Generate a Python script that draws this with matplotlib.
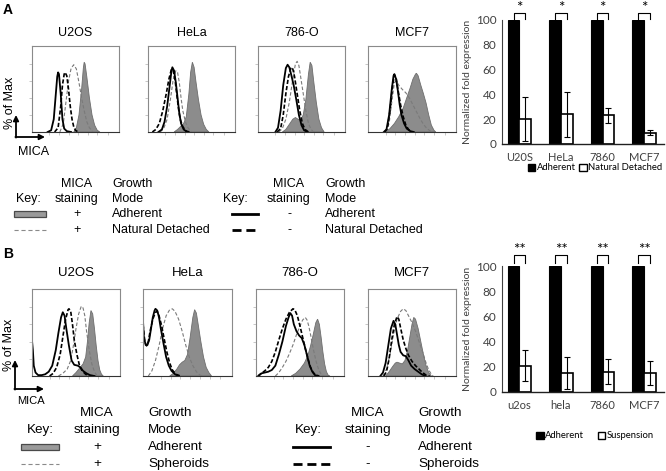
import numpy as np
import matplotlib
matplotlib.use("Agg")
import matplotlib.pyplot as plt
from matplotlib.patches import Patch, Rectangle

plt.rcParams["font.family"] = ["Liberation Sans", "DejaVu Sans"]
plt.rcParams["lines.scale_dashes"] = False

W, H = 666, 471

# flow histograms: (MICA channel, % of max)
# pos_adh = MICA+ adherent (grey fill), pos_var = MICA+ detached/spheroids (grey dashes)
# neg_adh = isotype adherent (solid), neg_var = isotype detached/spheroids (black dashes)
A_U2OS_POS_ADH = [(48,0),(51,5),(54,20),(57,50),(59,75),(60,82),(61,80),(63,65),(66,40),(69,20),(72,8),(75,2),(78,0)]
A_U2OS_POS_VAR = [(32,0),(36,10),(39,35),(42,60),(45,75),(48,79),(51,74),(54,58),(57,40),(60,25),(63,12),(66,5),(70,0)]
A_U2OS_NEG_ADH = [(18,0),(22,2),(25,15),(27,40),(29,65),(30,70),(31,68),(33,45),(35,15),(37,4),(40,1),(45,0)]
A_U2OS_NEG_VAR = [(26,0),(30,5),(33,30),(35,55),(37,68),(38,70),(40,66),(42,50),(44,30),(46,15),(48,6),(50,2),(53,0)]

A_HELA_POS_ADH = [(30,0),(34,3),(38,7),(41,10),(44,18),(47,45),(49,70),(51,82),(53,76),(55,60),(58,38),(61,20),(64,9),(67,3),(70,0)]
A_HELA_POS_VAR = [(14,0),(18,4),(22,15),(26,40),(29,62),(32,72),(34,70),(36,58),(38,40),(40,25),(43,12),(46,5),(50,0)]
A_HELA_NEG_ADH = [(12,0),(16,3),(19,12),(22,30),(25,55),(27,72),(28,76),(30,72),(32,58),(34,40),(36,22),(38,10),(41,3),(45,0)]
A_HELA_NEG_VAR = [(5,0),(9,3),(13,10),(17,25),(21,45),(24,62),(27,74),(29,72),(31,62),(33,45),(35,28),(37,15),(40,6),(44,1),(48,0)]

A_786_POS_ADH = [(28,0),(32,3),(36,9),(40,15),(43,17),(46,15),(49,14),(52,20),(55,38),(58,68),(60,82),(62,78),(64,60),(67,35),(70,15),(73,5),(76,0)]
A_786_POS_VAR = [(24,0),(28,4),(32,15),(36,35),(40,62),(43,80),(45,83),(47,78),(49,65),(52,45),(55,25),(58,10),(61,3),(64,0)]
A_786_NEG_ADH = [(20,0),(23,5),(26,25),(29,55),(32,75),(34,79),(36,76),(38,68),(41,55),(44,38),(47,20),(50,8),(53,2),(57,0)]
A_786_NEG_VAR = [(22,0),(26,4),(29,20),(32,45),(35,65),(38,76),(40,74),(42,65),(45,45),(48,25),(51,10),(54,3),(58,0)]

A_MCF7_POS_ADH = [(20,0),(25,4),(30,10),(35,18),(40,28),(44,40),(48,52),(51,62),(54,68),(55,69),(57,66),(60,55),(63,45),(66,34),(69,20),(72,8),(75,2),(77,0)]
A_MCF7_POS_VAR = [(20,0),(24,10),(27,35),(30,58),(32,60),(35,55),(39,50),(43,46),(47,40),(51,32),(55,24),(59,16),(63,9),(67,4),(71,1),(75,0)]
A_MCF7_NEG_ADH = [(18,0),(21,3),(24,20),(27,50),(29,66),(30,68),(32,62),(34,48),(36,32),(38,20),(41,10),(44,4),(48,1),(52,0)]
A_MCF7_NEG_VAR = [(19,0),(22,4),(25,25),(28,55),(30,67),(32,63),(34,50),(37,32),(40,18),(43,8),(46,3),(50,0)]

B_U2OS_POS_ADH = [(46,0),(50,4),(54,9),(58,14),(61,22),(63,40),(65,62),(67,76),(69,72),(71,55),(73,35),(75,18),(77,7),(79,2),(81,0)]
B_U2OS_POS_VAR = [(30,0),(35,3),(40,8),(44,18),(47,35),(50,55),(53,72),(56,81),(58,79),(60,70),(62,52),(65,30),(68,14),(71,5),(74,0)]
B_U2OS_NEG_ADH = [(0,41),(1,30),(2,12),(4,4),(7,1),(11,1),(15,2),(19,5),(23,12),(27,30),(30,50),(33,68),(35,74),(37,70),(39,55),(42,35),(45,18),(48,13),(52,12),(55,10),(58,6),(62,3),(66,1),(71,0)]
B_U2OS_NEG_VAR = [(20,0),(24,3),(28,10),(32,25),(35,45),(38,65),(41,77),(42,78),(44,75),(46,60),(48,42),(51,25),(54,12),(57,6),(61,2),(65,0)]

B_HELA_POS_ADH = [(30,0),(34,3),(38,8),(41,13),(44,16),(47,18),(50,25),(53,45),(56,68),(58,77),(60,73),(62,60),(65,40),(68,22),(71,10),(74,4),(77,0)]
B_HELA_POS_VAR = [(6,0),(10,6),(14,18),(18,35),(22,55),(26,70),(30,77),(33,78),(36,75),(40,66),(44,52),(48,36),(52,22),(56,12),(60,5),(64,1),(67,0)]
B_HELA_NEG_ADH = [(0,64),(1,45),(3,36),(5,36),(7,42),(9,55),(11,68),(13,76),(14,78),(16,76),(18,68),(20,55),(23,38),(26,22),(29,12),(32,6),(36,2),(40,0)]
B_HELA_NEG_VAR = [(0,60),(2,40),(4,35),(6,40),(8,52),(11,66),(14,74),(16,75),(18,70),(21,58),(24,42),(27,27),(30,15),(33,7),(37,2),(42,0)]

B_786_POS_ADH = [(40,0),(45,3),(50,8),(55,15),(59,24),(62,35),(65,48),(68,62),(70,66),(72,60),(74,45),(76,28),(78,14),(80,5),(82,1),(84,0)]
B_786_POS_VAR = [(22,0),(26,4),(30,10),(34,17),(38,26),(42,36),(46,48),(50,58),(53,65),(56,68),(58,65),(60,58),(62,48),(65,32),(68,18),(71,8),(74,2),(77,0)]
B_786_NEG_ADH = [(3,0),(6,3),(10,4),(14,5),(18,7),(22,12),(26,25),(30,40),(34,58),(37,68),(39,73),(41,70),(43,60),(46,52),(49,47),(52,44),(55,36),(58,24),(61,12),(64,5),(67,1),(70,0)]
B_786_NEG_VAR = [(2,0),(6,3),(10,6),(14,10),(18,17),(22,28),(26,42),(30,55),(34,66),(38,74),(42,78),(44,77),(47,70),(50,58),(53,45),(56,32),(59,20),(62,10),(65,4),(68,1),(72,0)]

B_MCF7_POS_ADH = [(20,0),(24,5),(28,11),(31,15),(33,16),(36,15),(39,14),(42,18),(45,30),(48,48),(50,60),(52,68),(54,66),(57,55),(60,40),(63,25),(66,12),(69,4),(72,0)]
B_MCF7_POS_VAR = [(17,0),(21,8),(25,25),(29,48),(33,66),(37,75),(40,78),(43,76),(46,70),(50,62),(54,52),(58,40),(62,28),(66,15),(69,7),(72,2),(74,0)]
B_MCF7_NEG_ADH = [(14,0),(17,4),(20,15),(23,35),(26,55),(29,64),(31,60),(33,48),(35,36),(37,28),(40,24),(43,23),(46,18),(49,12),(53,8),(57,5),(61,2),(65,0)]
B_MCF7_NEG_VAR = [(18,0),(21,5),(24,20),(27,42),(30,60),(33,69),(35,66),(37,56),(40,42),(43,32),(46,24),(50,17),(54,12),(58,8),(62,4),(66,1),(70,0)]

TITLES = ["U2OS", "HeLa", "786-O", "MCF7"]

# bar charts
CELLS_A = ["U20S", "HeLa", "7860", "MCF7"]
ADH_A = [100, 100, 100, 100]
DET_A = [20, 24, 23, 9]
DET_A_ERR = [17.5, 18, 6, 2]
STARS_A = ["*", "*", "*", "*"]

CELLS_B = ["u2os", "hela", "7860", "MCF7"]
ADH_B = [100, 100, 100, 100]
SUS_B = [21, 15, 16, 15]
SUS_B_ERR = [12.5, 12.5, 10, 9.5]
STARS_B = ["**", "**", "**", "**"]


def rect(x0, y0, x1, y1):
    return [x0 / W, 1 - y1 / H, (x1 - x0) / W, (y1 - y0) / H]


fig = plt.figure(figsize=(W / 100, H / 100), dpi=100)


def draw_hist(box, pos_adh, pos_var, neg_adh, neg_var):
    ax = fig.add_axes(rect(*box))
    x, y = zip(*pos_adh)
    ax.fill(x, y, facecolor="#8c8c8c", edgecolor="#6e6e6e", lw=0.6)
    x, y = zip(*pos_var)
    ax.plot(x, y, color="#7a7a7a", lw=0.8, dashes=(2.5, 1.5))
    x, y = zip(*neg_var)
    ax.plot(x, y, color="black", lw=1.2, dashes=(3, 1.5))
    x, y = zip(*neg_adh)
    ax.plot(x, y, color="black", lw=1.3)
    ax.set_xlim(0, 100)
    ax.set_ylim(0, 101)
    ax.set_yticks([20, 40, 60, 80])
    ax.set_xticks([20, 31, 42, 53, 64, 75, 87])
    ax.set_xticklabels([])
    ax.set_yticklabels([])
    ax.tick_params(length=2, width=0.5, colors="#b0b0b0")
    for s in ax.spines.values():
        s.set_color("#8a8a8a")
        s.set_linewidth(0.8)
    ax.spines["bottom"].set_color("#333333")
    return ax


boxes_a = [(32, 46, 119, 132), (148, 46, 235, 132), (258, 46, 345, 132), (368, 46, 456, 132)]
boxes_b = [(32, 289, 120, 376), (143, 289, 232, 376), (256, 289, 344, 376), (368, 289, 456, 376)]

hist_a = [(A_U2OS_POS_ADH, A_U2OS_POS_VAR, A_U2OS_NEG_ADH, A_U2OS_NEG_VAR),
          (A_HELA_POS_ADH, A_HELA_POS_VAR, A_HELA_NEG_ADH, A_HELA_NEG_VAR),
          (A_786_POS_ADH, A_786_POS_VAR, A_786_NEG_ADH, A_786_NEG_VAR),
          (A_MCF7_POS_ADH, A_MCF7_POS_VAR, A_MCF7_NEG_ADH, A_MCF7_NEG_VAR)]
hist_b = [(B_U2OS_POS_ADH, B_U2OS_POS_VAR, B_U2OS_NEG_ADH, B_U2OS_NEG_VAR),
          (B_HELA_POS_ADH, B_HELA_POS_VAR, B_HELA_NEG_ADH, B_HELA_NEG_VAR),
          (B_786_POS_ADH, B_786_POS_VAR, B_786_NEG_ADH, B_786_NEG_VAR),
          (B_MCF7_POS_ADH, B_MCF7_POS_VAR, B_MCF7_NEG_ADH, B_MCF7_NEG_VAR)]

for box, curves in zip(boxes_a, hist_a):
    draw_hist(box, *curves)
for box, curves in zip(boxes_b, hist_b):
    draw_hist(box, *curves)


def draw_bars(box, cells, adh, var, err, stars, labels, leg_xy, colsp, leg_top, br_top):
    ax = fig.add_axes(rect(*box))
    xs = np.arange(len(cells))
    ax.bar(xs - 0.14, adh, 0.28, color="black", edgecolor="black", lw=0.8)
    ax.bar(xs + 0.14, var, 0.28, color="white", edgecolor="black", lw=1.2,
           yerr=err, capsize=2.5, error_kw=dict(lw=0.8, capthick=0.8, ecolor="black"))
    ax.set_xlim(-0.42, 3.48)
    ax.set_ylim(0, 100)
    for i, s in enumerate(stars):
        ax.plot([i - 0.14, i - 0.14, i + 0.14, i + 0.14], [leg_top, br_top, br_top, leg_top],
                color="black", lw=0.8, clip_on=False)
        ax.text(i, br_top - 1.5, s, ha="center", va="bottom", fontsize=11,
                family="Lato", clip_on=False)
    for side in ("top", "right"):
        ax.spines[side].set_visible(False)
    ax.spines["left"].set_color("#404040")
    ax.spines["bottom"].set_color("#202020")
    ax.spines["bottom"].set_linewidth(1.0)
    ax.set_yticks(range(0, 101, 20))
    ax.set_xticks(xs)
    ax.set_xticklabels(cells)
    ax.tick_params(length=0, labelsize=8.5, labelcolor="#404040", pad=4)
    ax.tick_params(axis="x", labelsize=8, pad=6)
    for t in ax.get_xticklabels() + ax.get_yticklabels():
        t.set_family("Lato")
    ax.set_ylabel("Normalized fold expression", fontsize=7.5, family="Lato",
                  color="#404040", labelpad=3)
    handles = [Patch(facecolor="black", edgecolor="black"),
               Patch(facecolor="white", edgecolor="black")]
    fig.legend(handles, labels, loc="center", bbox_to_anchor=(leg_xy[0] / W, 1 - leg_xy[1] / H),
               ncol=2, frameon=False, prop={"family": "Lato", "size": 6.8},
               handlelength=0.8, handleheight=0.8, handletextpad=0.15, columnspacing=colsp,
               borderpad=0, borderaxespad=0)


draw_bars((502, 20, 664, 144), CELLS_A, ADH_A, DET_A, DET_A_ERR, STARS_A,
          ["Adherent", "Natural Detached"], (595, 168), 0.4, 100.5, 105.6)
draw_bars((502, 266, 664, 392), CELLS_B, ADH_B, SUS_B, SUS_B_ERR, STARS_B,
          ["Adherent", "Suspension"], (595, 436), 1.4, 102.4, 108.7)

# overlay in pixel coordinates for titles, axis arrows and keys
o = fig.add_axes([0, 0, 1, 1])
o.set_xlim(0, W)
o.set_ylim(H, 0)
o.axis("off")

o.text(3, 10, "A", fontsize=10, fontweight="bold", va="center")
o.text(3, 254, "B", fontsize=10, fontweight="bold", va="center")

for box, t in zip(boxes_a, TITLES):
    o.text((box[0] + box[2]) / 2, 33, t, ha="center", va="center", fontsize=9)
for box, t in zip(boxes_b, TITLES):
    o.text((box[0] + box[2]) / 2, 273, t, ha="center", va="center", fontsize=9.5)


def axis_arrows(x0, y0, ytop, xright, ylab, ylab_y, lab_fs):
    ap = dict(arrowstyle="-|>", lw=1.3, color="black", mutation_scale=8, shrinkA=0, shrinkB=0)
    o.annotate("", xy=(x0, ytop), xytext=(x0, y0 + 0.6), arrowprops=ap)
    o.annotate("", xy=(xright, y0), xytext=(x0 - 0.6, y0), arrowprops=ap)
    o.text(x0 - 6, ylab_y, "% of Max", rotation=90, ha="center", va="center", fontsize=9)
    o.text(x0 + 2, ylab, "MICA", ha="left", va="center", fontsize=lab_fs)


axis_arrows(16, 137, 115, 45, 152, 103, 9)
axis_arrows(15, 389, 360, 44, 401, 345, 8)


def draw_key(ys, lx, rx, fs, var_label):
    y0, y1, y2, y3 = ys
    for (kr, s0, s1, col, gx), sign in ((lx, "+"), (rx, "-")):
        o.text(col, y0, "MICA", ha="center", va="center", fontsize=fs)
        o.text(gx, y0, "Growth", ha="left", va="center", fontsize=fs)
        o.text(kr, y1, "Key:", ha="right", va="center", fontsize=fs)
        o.text(col, y1, "staining", ha="center", va="center", fontsize=fs)
        o.text(gx, y1, "Mode", ha="left", va="center", fontsize=fs)
        o.text(col, y2, sign, ha="center", va="center", fontsize=fs)
        o.text(gx, y2, "Adherent", ha="left", va="center", fontsize=fs)
        o.text(col, y3, sign, ha="center", va="center", fontsize=fs)
        o.text(gx, y3, var_label, ha="left", va="center", fontsize=fs)
    kr, s0, s1, col, gx = lx
    o.add_patch(Rectangle((s0, y2 - 3.5), s1 - s0, 6, facecolor="#9a9a9a", edgecolor="#4a4a4a", lw=0.9))
    o.plot([s0, s1], [y3, y3], color="#8a8a8a", lw=0.8, dashes=(3, 2))
    kr, s0, s1, col, gx = rx
    o.plot([s0, s1], [y2 - 0.5, y2 - 0.5], color="black", lw=2)
    o.plot([s0, s1], [y3, y3], color="black", lw=2, dashes=(6.5, 3.5))


draw_key((184, 199, 214, 230), (41, 14, 46, 77, 112), (248, 232, 258, 289, 325), 9, "Natural Detached")
draw_key((413, 430, 447, 464), (54, 21, 59, 97, 148), (322, 293, 330, 368, 418), 9.7, "Spheroids")

fig.savefig("out.png", dpi=100)
